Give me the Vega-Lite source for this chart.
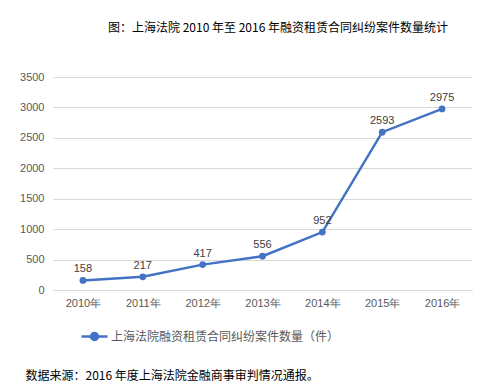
{
  "$schema": "https://vega.github.io/schema/vega-lite/v6.json",
  "autosize": "none",
  "width": 419,
  "height": 213,
  "padding": {"left": 53, "top": 77, "right": 23, "bottom": 101},
  "background": "white",
  "title": {
    "text": "图：上海法院 2010 年至 2016 年融资租赁合同纠纷案件数量统计",
    "anchor": "start",
    "frame": "group",
    "dx": 55,
    "offset": 36,
    "font": "Noto Sans CJK SC",
    "fontSize": 12,
    "fontWeight": "normal",
    "color": "#000000"
  },
  "config": {
    "view": {"stroke": null},
    "font": "Noto Sans CJK SC"
  },
  "data": {
    "values": [
      {"year": "2010年", "count": 158, "series": "上海法院融资租赁合同纠纷案件数量（件）"},
      {"year": "2011年", "count": 217, "series": "上海法院融资租赁合同纠纷案件数量（件）"},
      {"year": "2012年", "count": 417, "series": "上海法院融资租赁合同纠纷案件数量（件）"},
      {"year": "2013年", "count": 556, "series": "上海法院融资租赁合同纠纷案件数量（件）"},
      {"year": "2014年", "count": 952, "series": "上海法院融资租赁合同纠纷案件数量（件）"},
      {"year": "2015年", "count": 2593, "series": "上海法院融资租赁合同纠纷案件数量（件）"},
      {"year": "2016年", "count": 2975, "series": "上海法院融资租赁合同纠纷案件数量（件）"}
    ]
  },
  "encoding": {
    "x": {
      "field": "year",
      "type": "ordinal",
      "scale": {"type": "point", "padding": 0.5},
      "axis": {
        "title": "数据来源：2016 年度上海法院金融商事审判情况通报。",
        "titleAnchor": "start",
        "titleAlign": "left",
        "titleX": -28,
        "titleY": 80,
        "titleFont": "Noto Sans CJK SC",
        "titleFontSize": 12,
        "titleFontWeight": "normal",
        "titleColor": "#000000",
        "labelAngle": 0,
        "labelFont": "Liberation Sans",
        "labelFontSize": 11,
        "labelColor": "#595959",
        "labelPadding": 7,
        "ticks": false,
        "domainColor": "#D9D9D9",
        "grid": false
      }
    },
    "y": {
      "field": "count",
      "type": "quantitative",
      "scale": {"domain": [0, 3500]},
      "axis": {
        "title": null,
        "format": "d",
        "values": [0, 500, 1000, 1500, 2000, 2500, 3000, 3500],
        "labelFont": "Liberation Sans",
        "labelFontSize": 11,
        "labelColor": "#595959",
        "labelPadding": 9,
        "ticks": false,
        "domain": false,
        "gridColor": "#D9D9D9",
        "gridWidth": 1
      }
    }
  },
  "layer": [
    {
      "mark": {
        "type": "line",
        "strokeWidth": 2.5,
        "point": {"filled": true, "size": 45}
      },
      "encoding": {
        "color": {
          "field": "series",
          "type": "nominal",
          "scale": {"range": ["#4472C4"]},
          "legend": {
            "title": null,
            "orient": "none",
            "legendX": 27,
            "legendY": 245,
            "symbolType": "M-1,0H1M-0.27,0A0.27,0.27 0 1 1 0.27,0A0.27,0.27 0 1 1 -0.27,0Z",
            "symbolSize": 676,
            "symbolStrokeWidth": 2.5,
            "symbolFillColor": "#4472C4",
            "symbolStrokeColor": "#4472C4",
            "labelFont": "Noto Sans CJK SC",
            "labelFontSize": 12,
            "labelColor": "#595959",
            "labelOffset": 2,
            "labelLimit": 400
          }
        }
      }
    },
    {
      "mark": {
        "type": "text",
        "dy": -11,
        "font": "Liberation Sans",
        "fontSize": 11,
        "color": "#404040"
      },
      "encoding": {"text": {"field": "count", "type": "quantitative", "format": "d"}}
    }
  ]
}
